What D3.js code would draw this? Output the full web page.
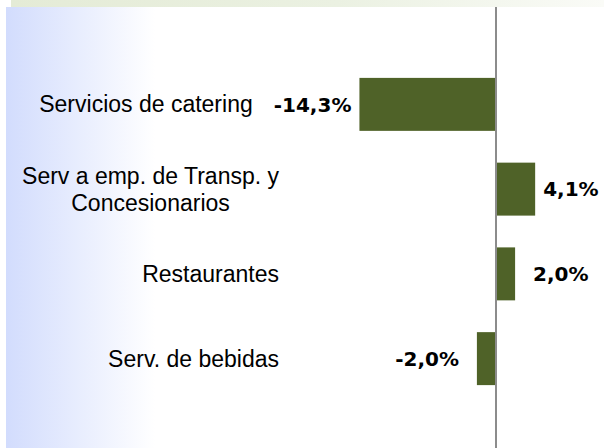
<!DOCTYPE html>
<html>
<head>
<meta charset="utf-8">
<script src="https://cdn.jsdelivr.net/npm/d3@7.9.0/dist/d3.min.js"></script>
<style>
  html, body { margin: 0; padding: 0; background: #fff; }
  svg { display: block; }
</style>
</head>
<body>
<div id="chart"></div>
<script>
// datos
const categories = [
  ['Servicios de catering'],
  ['Serv a emp. de Transp. y', 'Concesionarios'],
  ['Restaurantes'],
  ['Serv. de bebidas']
];
const values = [-14.3, 4.1, 2.0, -2.0];

const width = 604;
const height = 448;

const svg = d3.select('#chart')
  .append('svg')
  .attr('width', width)
  .attr('height', height);

// fondos con degradado
const defs = svg.append('defs');
const gBlue = defs.append('linearGradient').attr('id', 'gBlue')
  .attr('gradientUnits', 'userSpaceOnUse')
  .attr('x1', 6).attr('x2', 155).attr('y1', 0).attr('y2', 0);
gBlue.append('stop').attr('offset', 0).attr('stop-color', '#d2dcfd');
gBlue.append('stop').attr('offset', 1).attr('stop-color', '#ffffff');

const gTop = defs.append('linearGradient').attr('id', 'gTop')
  .attr('x1', 0).attr('x2', 1).attr('y1', 0).attr('y2', 0);
gTop.append('stop').attr('offset', 0).attr('stop-color', '#e4ebd6');
gTop.append('stop').attr('offset', 0.55).attr('stop-color', '#ebf1e2');
gTop.append('stop').attr('offset', 1).attr('stop-color', '#fafbf7');

svg.append('rect').attr('x', 6).attr('y', 7).attr('width', 160).attr('height', height - 7)
  .attr('fill', 'url(#gBlue)');
svg.append('rect').attr('x', 11).attr('y', 0).attr('width', width - 11).attr('height', 7)
  .attr('fill', 'url(#gTop)');

// escalas
const x = d3.scaleLinear()
  .domain([-20, 10])
  .range([305, 591.5]);

const y = d3.scaleBand()
  .domain(d3.range(values.length))
  .range([62, 401])
  .paddingInner(0.375)
  .paddingOuter(0.1875);

// barras
svg.selectAll('rect.bar')
  .data(values)
  .join('rect')
  .attr('class', 'bar')
  .attr('x', d => x(Math.min(0, d)))
  .attr('y', (d, i) => y(i))
  .attr('width', d => Math.abs(x(d) - x(0)))
  .attr('height', y.bandwidth())
  .attr('fill', '#4f6228');

// eje vertical
svg.append('line')
  .attr('x1', x(0)).attr('x2', x(0))
  .attr('y1', 7).attr('y2', height)
  .attr('stroke', '#8c8c8c')
  .attr('stroke-width', 2);

// etiquetas de valor (coma decimal, guion normal)
const fmt = d => d3.format('.1f')(d).replace('.', ',').replace('\u2212', '-') + '%';
const valueLabels = svg.selectAll('text.val')
  .data(values)
  .join('text')
  .attr('class', 'val')
  .attr('x', d => {
    const off = Math.max(Math.abs(x(d) - x(0)) + 8, 37);
    return d < 0 ? x(0) - off : x(0) + off;
  })
  .attr('y', (d, i) => y(i) + y.bandwidth() / 2)
  .attr('dy', '0.36em')
  .attr('text-anchor', d => d < 0 ? 'end' : 'start')
  .style('font-family', '"DejaVu Sans", sans-serif')
  .style('font-weight', 'bold')
  .style('font-size', '20px')
  .style('fill', '#000')
  .text(fmt);

// etiquetas de categoria
const labelRight = 279;
const lineH = 27;
categories.forEach((lines, i) => {
  let right = labelRight;
  if (values[i] < 0) {
    const box = valueLabels.nodes()[i].getBBox();
    right = Math.min(right, box.x - 21);
  }
  const cy = y(i) + y.bandwidth() / 2;
  const t = svg.append('text')
    .attr('text-anchor', 'middle')
    .style('font-family', '"Liberation Sans", Arial, sans-serif')
    .style('font-size', '23px')
    .style('fill', '#000');
  lines.forEach((s, k) => {
    t.append('tspan')
      .attr('y', cy + (k - (lines.length - 1) / 2) * lineH)
      .attr('dy', '0.35em')
      .text(s);
  });
  const w = d3.max(t.selectAll('tspan').nodes(), n => n.getComputedTextLength());
  t.selectAll('tspan').attr('x', right - w / 2);
});
</script>
</body>
</html>
